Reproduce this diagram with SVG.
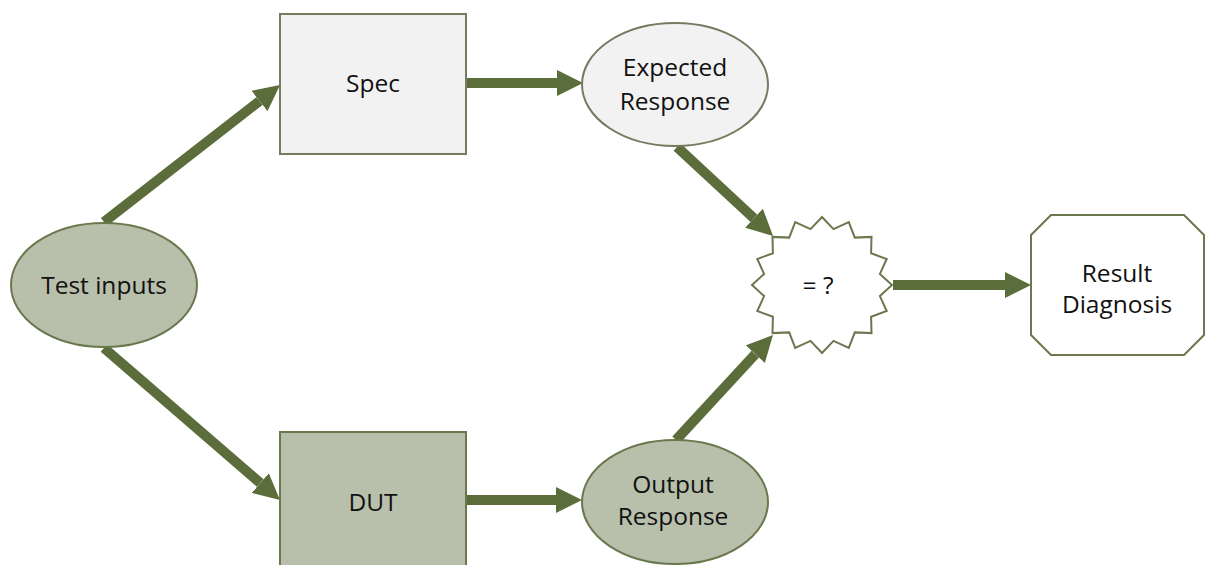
<svg xmlns="http://www.w3.org/2000/svg" width="1206" height="565" viewBox="0 0 1206 565">
  <style>
    .label { font-family: "Open Sans", "Noto Sans", sans-serif; font-size: 24.5px; fill: #111; text-anchor: middle; }
    .light { fill: #f2f2f2; stroke: #767a60; stroke-width: 2; }
    .olive { fill: #b8c0ab; stroke: #6b774d; stroke-width: 2; }
    .plain { fill: #ffffff; stroke: #6b774d; stroke-width: 2; }
    .conn { stroke: #5b6d3b; stroke-width: 10; fill: none; marker-end: url(#head); }
  </style>
  <defs>
    <marker id="head" markerUnits="userSpaceOnUse" viewBox="0 -13 26 26" markerWidth="26" markerHeight="26" refX="0" refY="0" orient="auto">
      <path d="M0,-13 L26,0 L0,13 z" fill="#5b6d3b"/>
    </marker>
  </defs>
  <rect width="1206" height="565" fill="#ffffff"/>

  <!-- connectors: each line stops where its arrowhead begins -->
  <g id="connectors">
    <line class="conn" x1="104" y1="222" x2="259.5" y2="101"/>
    <line class="conn" x1="466" y1="83" x2="557" y2="83"/>
    <line class="conn" x1="677" y1="147" x2="754" y2="218.3"/>
    <line class="conn" x1="104" y1="348" x2="260.3" y2="483"/>
    <line class="conn" x1="466" y1="500" x2="556" y2="500"/>
    <line class="conn" x1="676" y1="440" x2="755.3" y2="354.1"/>
    <line class="conn" x1="893" y1="285" x2="1005" y2="285"/>
  </g>

  <g id="test-inputs">
    <ellipse class="olive" cx="104" cy="285" rx="93" ry="62"/>
    <text class="label" x="104" y="294">Test inputs</text>
  </g>

  <g id="spec">
    <rect class="light" x="280" y="14" width="186" height="140"/>
    <text class="label" x="373" y="92">Spec</text>
  </g>

  <g id="expected-response">
    <ellipse class="light" cx="675" cy="84.5" rx="93" ry="61.5"/>
    <text class="label" x="675" y="76">Expected</text>
    <text class="label" x="675" y="110">Response</text>
  </g>

  <g id="dut">
    <rect class="olive" x="280" y="432" width="186" height="140"/>
    <text class="label" x="373" y="511">DUT</text>
  </g>

  <g id="output-response">
    <ellipse class="olive" cx="675" cy="502" rx="93" ry="62"/>
    <text class="label" x="673" y="493">Output</text>
    <text class="label" x="673" y="525">Response</text>
  </g>

  <g id="compare">
    <polygon class="plain" points="892,285 879.9,296.1 886.7,311 871.1,316.7 871.5,333.1 854.8,332.4 848.8,347.8 833.5,340.9 822,353 810.5,340.9 795.2,347.8 789.2,332.4 772.5,333.1 772.9,316.7 757.3,311 764.1,296.1 752,285 764.1,273.9 757.3,259 772.9,253.3 772.5,236.9 789.2,237.6 795.2,222.2 810.5,229.1 822,217 833.5,229.1 848.8,222.2 854.8,237.6 871.5,236.9 871.1,253.3 886.7,259 879.9,273.9"/>
    <text class="label" x="818" y="294">= ?</text>
  </g>

  <g id="result-diagnosis">
    <polygon class="plain" points="1051,215 1184,215 1204,235 1204,335 1184,355 1051,355 1031,335 1031,235"/>
    <text class="label" x="1117" y="282">Result</text>
    <text class="label" x="1117" y="313">Diagnosis</text>
  </g>
</svg>
